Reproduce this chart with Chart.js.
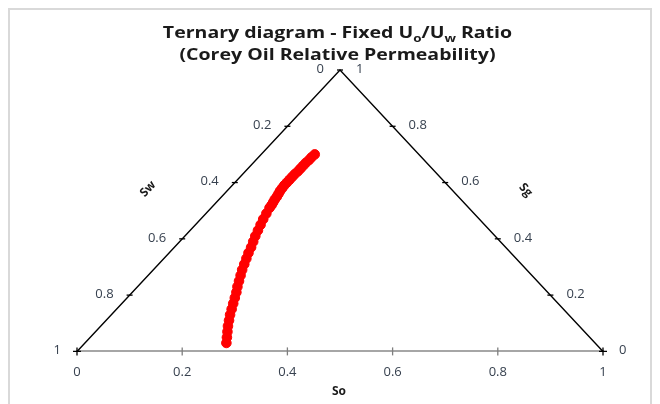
<!DOCTYPE html>
<html><head><meta charset="utf-8">
<script src="https://cdn.jsdelivr.net/npm/chart.js@4"></script>
<style>html,body{margin:0;padding:0;background:#fff}canvas{display:block}</style>
</head><body>
<canvas id="c" width="660" height="404"></canvas>
<script>
// ---- data ----
const titleLine1 = [
  {text: "Ternary diagram - Fixed U"}, {text: "o", sub: true},
  {text: "/U"}, {text: "w", sub: true}, {text: " Ratio"}
];
const titleLine2 = "(Corey Oil Relative Permeability)";
const axisTicks = [0, 0.2, 0.4, 0.6, 0.8, 1];      // So, Sw, Sg tick values
const innerTicks = [0.2, 0.4, 0.6, 0.8];
const axisNames = {bottom: "So", left: "Sw", right: "Sg"};
// curve (ternary saturations)
const curveSg = [0.03,0.05,0.07,0.09,0.11,0.13,0.15,0.17,0.19,0.21,0.23,0.25,0.27,0.29,0.31,0.33,0.35,0.37,0.39,0.41,0.43,0.45,0.47,0.49,0.51,0.52,0.53,0.54,0.55,0.56,0.57,0.58,0.59,0.60,0.61,0.62,0.63,0.64,0.65,0.66,0.67,0.68,0.69,0.70];
const curveSo = [0.269,0.260,0.251,0.242,0.234,0.226,0.219,0.212,0.205,0.198,0.190,0.183,0.176,0.169,0.163,0.157,0.151,0.146,0.140,0.134,0.129,0.124,0.119,0.115,0.111,0.110,0.108,0.106,0.105,0.103,0.101,0.100,0.099,0.099,0.099,0.099,0.099,0.100,0.100,0.100,0.100,0.101,0.101,0.102];

// ternary -> cartesian (apex = Sg 1, left = Sw 1, right = So 1)
const tern = (so, sg) => ({x: so + sg / 2, y: sg});
const leftPt = w => tern(0, 1 - w);       // side So = 0, labelled by Sw
const rightPt = g => tern(1 - g, g);      // side Sw = 0, labelled by Sg

const curvePts = curveSg.map((g, i) => tern(curveSo[i], g));
const sidePts = [tern(0, 0), tern(0, 1), tern(1, 0)];
const sideTickPts = innerTicks.map(leftPt).concat(innerTicks.map(rightPt), [tern(0, 1)]);
const cornerPts = [tern(0, 0), tern(1, 0)];
const baseTickPts = innerTicks.map(v => tern(v, 0));

const FONT = "'Open Sans'";
const LABEL_COLOR = "#37414f";
const fmt = v => String(+v.toFixed(1));

const framePlugin = {
  id: "frame",
  beforeDraw(chart) {
    const c = chart.ctx;
    c.save();
    c.fillStyle = "#fff";
    c.fillRect(0, 0, chart.width, chart.height);
    c.strokeStyle = "#d9d9d9";
    c.lineWidth = 2;
    c.beginPath();
    c.moveTo(9, 410); c.lineTo(9, 9); c.lineTo(651, 9); c.lineTo(651, 410);
    c.stroke();
    c.restore();
  }
};

const textPlugin = {
  id: "texts",
  afterDraw(chart) {
    const c = chart.ctx, xs = chart.scales.x, ys = chart.scales.y;
    const px = p => [xs.getPixelForValue(p.x), ys.getPixelForValue(p.y)];
    c.save();
    // title (slightly widened glyphs like the original)
    const big = "bold 16px " + FONT, small = "bold 11px " + FONT;
    c.fillStyle = "#1a1a1a";
    c.textBaseline = "alphabetic";
    c.save();
    c.translate(337.5, 0);
    c.scale(1.22, 1);
    let w = 0;
    titleLine1.forEach(s => { c.font = s.sub ? small : big; w += c.measureText(s.text).width; });
    let cx = -w / 2;
    c.textAlign = "left";
    titleLine1.forEach(s => {
      c.font = s.sub ? small : big;
      c.fillText(s.text, cx, s.sub ? 42 : 38);
      cx += c.measureText(s.text).width;
    });
    c.font = big;
    c.textAlign = "center";
    c.fillText(titleLine2, 0, 60);
    c.restore();

    // side tick labels
    c.font = "13px " + FONT;
    c.fillStyle = LABEL_COLOR;
    c.textBaseline = "middle";
    c.textAlign = "right";
    axisTicks.forEach(v => { const [a, b] = px(leftPt(v)); c.fillText(fmt(v), a - 16, b - 1); });
    c.textAlign = "left";
    axisTicks.forEach(v => { const [a, b] = px(rightPt(v)); c.fillText(fmt(v), a + 16, b - 1); });

    // axis names
    c.font = "bold 12px " + FONT;
    c.fillStyle = "#1a1a1a";
    c.textAlign = "center";
    let [a, b] = px({x: 0.5, y: 0});
    c.fillText(axisNames.bottom, a - 1, b + 40);
    const ang = Math.atan2(ys.getPixelForValue(0) - ys.getPixelForValue(1), xs.getPixelForValue(0.5) - xs.getPixelForValue(0));
    [a, b] = px({x: 0.135, y: 0.577});
    c.save(); c.translate(a, b); c.rotate(-ang); c.fillText(axisNames.left, 0, 0); c.restore();
    [a, b] = px({x: 0.853, y: 0.573});
    c.save(); c.translate(a, b); c.rotate(ang); c.fillText(axisNames.right, 0, 0); c.restore();
    c.restore();
  }
};

new Chart(document.getElementById("c"), {
  type: "scatter",
  data: {
    datasets: [
      {label: "curve", data: curvePts, pointRadius: 4.8, pointBorderWidth: 1,
       pointBackgroundColor: "#ff0000", pointBorderColor: "#ff0000", showLine: false, clip: false},
      {label: "sides", data: sidePts, showLine: true, borderColor: "#000", borderWidth: 1.4,
       pointRadius: 0, clip: false},
      {label: "sideTicks", data: sideTickPts, pointStyle: "line", pointRadius: 3,
       pointBorderColor: "#000", pointBorderWidth: 1.3, showLine: false, clip: false},
      {label: "corners", data: cornerPts, pointStyle: "cross", pointRadius: 4,
       pointBorderColor: "#000", pointBorderWidth: 1.3, showLine: false, clip: false},
      {label: "baseTicks", data: baseTickPts, pointStyle: "line", rotation: 90, pointRadius: 4,
       pointBorderColor: "#7f7f7f", pointBorderWidth: 1.3, showLine: false, clip: false}
    ]
  },
  options: {
    responsive: false, animation: false, events: [],
    layout: {padding: {left: 77, right: 57, top: 70, bottom: 11}},
    plugins: {legend: {display: false}, tooltip: {enabled: false}, title: {display: false}},
    scales: {
      x: {
        type: "linear", min: 0, max: 1, position: "bottom",
        afterBuildTicks: s => { s.ticks = axisTicks.map(v => ({value: v})); },
        grid: {display: true, drawOnChartArea: false, drawTicks: false},
        border: {display: true, color: "#a6a6a6", width: 2},
        ticks: {padding: 13, color: LABEL_COLOR, font: {family: "Open Sans", size: 13}, callback: v => fmt(v), maxRotation: 0},
        title: {display: false}
      },
      y: {display: false, min: 0, max: 1}
    }
  },
  plugins: [framePlugin, textPlugin]
});
</script>
</body></html>
